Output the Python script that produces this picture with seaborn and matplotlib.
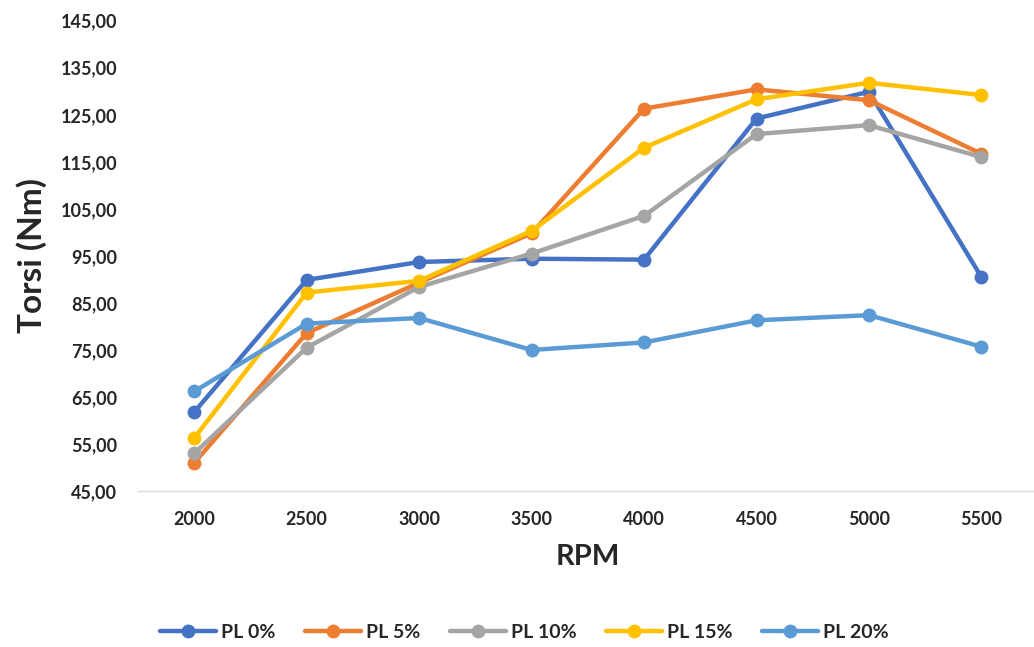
import pandas as pd
import matplotlib.pyplot as plt
import seaborn as sns
from matplotlib.ticker import FuncFormatter

# data
rpm = ['2000', '2500', '3000', '3500', '4000', '4500', '5000', '5500']
pl_0 = [61.8, 89.9, 93.7, 94.4, 94.2, 124.2, 129.9, 90.5]
pl_5 = [51.0, 78.6, 89.3, 99.8, 126.3, 130.4, 128.1, 116.7]
pl_10 = [53.0, 75.5, 88.4, 95.5, 103.5, 120.9, 122.8, 116.0]
pl_15 = [56.3, 87.2, 89.7, 100.3, 118.0, 128.3, 131.8, 129.2]
pl_20 = [66.2, 80.6, 81.8, 75.0, 76.6, 81.3, 82.4, 75.7]

series = {'PL 0%': pl_0, 'PL 5%': pl_5, 'PL 10%': pl_10,
          'PL 15%': pl_15, 'PL 20%': pl_20}

rows = []
for name, vals in series.items():
    for r, v in zip(rpm, vals):
        rows.append({'RPM': r, 'Torsi': v, 'Seri': name})
df = pd.DataFrame(rows)

# office-style colours
palette = {'PL 0%': '#4472C4', 'PL 5%': '#ED7D31', 'PL 10%': '#A5A5A5',
           'PL 15%': '#FFC000', 'PL 20%': '#5B9BD5'}

sns.set_style('white')
plt.rcParams['font.family'] = ['Lato', 'DejaVu Sans']
plt.rcParams['font.weight'] = 'bold'

fig = plt.figure(figsize=(10.34, 6.47), dpi=100)
ax = fig.add_axes([0.1335, 0.241, 0.870, 0.727])

sns.lineplot(data=df, x='RPM', y='Torsi', hue='Seri', palette=palette,
             marker='o', markersize=10, markeredgewidth=0, linewidth=3.2,
             sort=False, ax=ax)

ax.set_xlim(-0.5, len(rpm) - 0.5)
ax.set_ylim(45, 145)
ax.set_yticks(range(45, 146, 10))
ax.yaxis.set_major_formatter(FuncFormatter(lambda v, p: f'{v:.2f}'.replace('.', ',')))

for s in ['top', 'right', 'left']:
    ax.spines[s].set_visible(False)
ax.spines['bottom'].set_color('#d9d9d9')
ax.spines['bottom'].set_linewidth(1)
ax.tick_params(axis='both', length=0, labelsize=13)
ax.tick_params(axis='y', pad=15)
ax.tick_params(axis='x', pad=14)
for lab in ax.get_xticklabels() + ax.get_yticklabels():
    lab.set_fontweight('bold')

ax.set_xlabel('RPM', fontsize=21, fontweight='bold', labelpad=12)
ax.set_ylabel('Torsi (Nm)', fontsize=24, fontweight='bold', labelpad=10)

ax.legend_.remove()
handles, labels = ax.get_legend_handles_labels()
fig.legend(handles, labels, loc='center', bbox_to_anchor=(0.507, 0.022),
           ncol=5, frameon=False, fontsize=14, handlelength=2.9,
           columnspacing=1.5, handletextpad=0.25)

fig.savefig('out.png', dpi=100)
